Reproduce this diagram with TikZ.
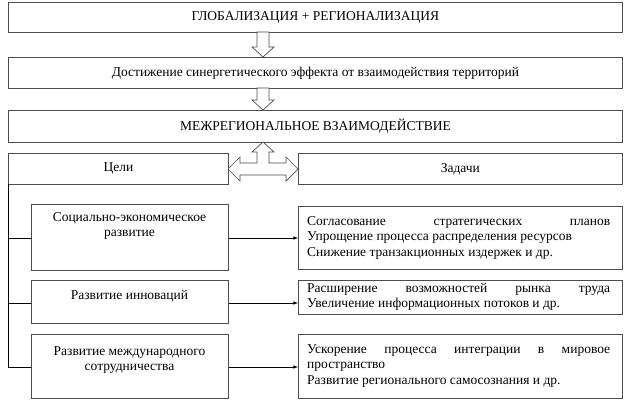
\documentclass[tikz,border=0pt]{standalone}
\usepackage{fontspec}
\setmainfont{Liberation Serif}
\newfontfamily\tms{Liberation Serif}
\begin{document}
\begin{tikzpicture}[x=1pt,y=-1pt,
  bx/.style={draw=black!70,line width=0.8pt},
  tx/.style={font=\tms\fontsize{13.5}{15.5}\selectfont,inner sep=0pt},
  con/.style={draw=black,line width=0.6pt},
  arr/.style={con,-latex},
  hol/.style={draw=black!70,line width=0.7pt,fill=white}]
\useasboundingbox (0,0) rectangle (631,409);
% top boxes
\node[bx,minimum width=614,minimum height=30,anchor=north west] (b1) at (8,2) {};
\node[tx] at (b1.center) {ГЛОБАЛИЗАЦИЯ + РЕГИОНАЛИЗАЦИЯ};
\node[bx,minimum width=614,minimum height=31,anchor=north west] (b2) at (8,57) {};
\node[tx] at (b2.center) {Достижение синергетического эффекта от взаимодействия территорий};
\node[bx,minimum width=614,minimum height=32,anchor=north west] (b3) at (8,110) {};
\node[tx] at (b3.center) {МЕЖРЕГИОНАЛЬНОЕ ВЗАИМОДЕЙСТВИЕ};
% hollow down arrows
\draw[hol] (257,32)--(269,32)--(269,47)--(274,47)--(263,57)--(252,47)--(257,47)--cycle;
\draw[hol] (257,88)--(269,88)--(269,100)--(274,100)--(263,110)--(252,100)--(257,100)--cycle;
% goals/tasks headers
\node[bx,minimum width=220,minimum height=31,anchor=north west] (g) at (8,153) {};
\node[tx] at (g.center) {Цели};
\node[bx,minimum width=324,minimum height=31,anchor=north west] (t) at (298,153) {};
\node[tx] at (t.center) {Задачи};
% T arrow
\draw[hol] (228,169)--(240,157)--(240,163)--(257,163)--(257,152)--(252,152)--(263,142)--(274,152)--(269,152)--(269,163)--(286,163)--(286,157)--(298,169)--(286,181)--(286,175)--(240,175)--(240,181)--cycle;
% goal boxes
\node[bx,minimum width=197,minimum height=66,anchor=north west] (g1) at (31,204) {};
\node[tx,align=center] at (129.5,226) {Социально-экономическое\\развитие};
\node[bx,minimum width=197,minimum height=43,anchor=north west] (g2) at (31,280) {};
\node[tx] at (129.5,296) {Развитие инноваций};
\node[bx,minimum width=197,minimum height=64,anchor=north west] (g3) at (31,334) {};
\node[tx,align=center] at (129.5,360) {Развитие международного\\сотрудничества};
% task boxes
\node[bx,minimum width=324,minimum height=63,anchor=north west] (t1) at (298,206) {};
\node[tx,align=left,anchor=west] at (307,237.5) {\makebox[303pt]{Согласование\hfill стратегических\hfill планов}\\Упрощение процесса распределения ресурсов\\Снижение транзакционных издержек и др.};
\node[bx,minimum width=324,minimum height=34,anchor=north west] (t2) at (298,280) {};
\node[tx,align=left,anchor=west] at (307,297) {\makebox[303pt]{Расширение\hfill возможностей\hfill рынка\hfill труда}\\Увеличение информационных потоков и др.};
\node[bx,minimum width=324,minimum height=64,anchor=north west] (t3) at (298,334) {};
\node[tx,align=left,anchor=west] at (307,366) {\makebox[303pt]{Ускорение\hfill процесса\hfill интеграции\hfill в\hfill мировое}\\пространство\\Развитие регионального самосознания и др.};
% left bracket
\coordinate (L0) at (8,184);
\coordinate (L1) at (8,238);
\coordinate (L2) at (8,303);
\coordinate (L3) at (8,367);
\draw[con] (L0)--(L3)--(L3-|g3.west);
\draw[con] (L1)--(L1-|g1.west);
\draw[con] (L2)--(L2-|g2.west);
\draw[arr] (g1.east|-L1)--(t1.west|-L1);
\draw[arr] (g2.east|-L2)--(t2.west|-L2);
\draw[arr] (g3.east|-L3)--(t3.west|-L3);
\end{tikzpicture}
\end{document}
